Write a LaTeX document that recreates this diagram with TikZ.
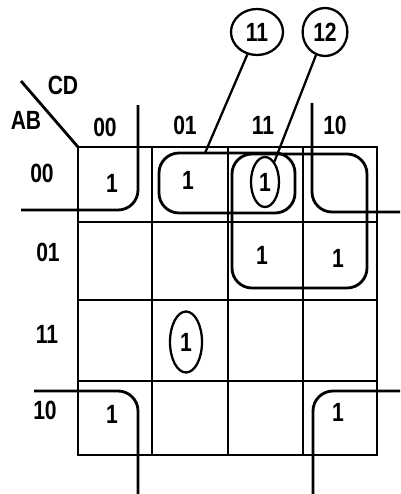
\documentclass[tikz,border=0pt]{standalone}
\usepackage{fontspec}
\setmainfont{Liberation Sans}
\usetikzlibrary{shapes.geometric}

\begin{document}
\begin{tikzpicture}[x=0.02cm, y=-0.02cm, line width=1.6pt,
    txt/.style={font=\fontsize{15}{17}\selectfont\bfseries, inner sep=0pt, xscale=0.8},
    grp/.style={rounded corners=0.4cm},
    loop/.style={draw, ellipse, inner sep=0pt, line width=1.3pt}]
      \useasboundingbox (0,0) rectangle (400,494);
      % corner heading
      \node[txt] (cd) at (63,85) {CD};
      \node[txt] (ab) at (26,120) {AB};
      \coordinate (slash) at (21,81);
      \coordinate (corner) at (78,147);
      \draw (slash) -- (corner);
      % column labels
      \node[txt] (c00) at (105,127) {00};
      \node[txt] (c01) at (185,125) {01};
      \node[txt] (c11) at (263,125) {11};
      \node[txt] (c10) at (335,125) {10};
      % row labels
      \node[txt] (r00) at (42,173) {00};
      \node[txt] (r01) at (48,252) {01};
      \node[txt] (r11) at (47,334) {11};
      \node[txt] (r10) at (45,410) {10};
      % grid
      \draw (corner) rectangle (377,455);
      \draw (152,147) -- (152,455);
      \draw (228,147) -- (228,455);
      \draw (303,147) -- (303,455);
      \draw (78,222) -- (377,222);
      \draw (78,300) -- (377,300);
      \draw (78,381) -- (377,381);
      % cell entries
      \node[txt] (m0) at (112,183) {1};
      \node[txt] (m1) at (188,180) {1};
      \node[txt] (m7) at (262,255) {1};
      \node[txt] (m6) at (338,258) {1};
      \node[txt] (m8) at (112,414) {1};
      \node[txt] (m10) at (338,412) {1};
      \node[loop, txt, minimum width=0.7cm, minimum height=1cm] (e12) at (265,182) {1};
      \node[loop, txt, minimum width=0.8cm, minimum height=1.22cm] (e13) at (186,342) {1};
      % groups
      \draw[grp] (159,153) rectangle (295,213);
      \draw[grp] (232,154) rectangle (367,288);
      \draw[grp] (138,105) -- (138,210) -- (21,210);
      \draw[grp] (312,103) -- (312,212) -- (400,212);
      \draw[grp] (34,391) -- (138,391) -- (138,494);
      \draw[grp] (400,391) -- (313,391) -- (313,494);
      % callouts
      \node[loop, txt, minimum width=1.3cm, minimum height=0.92cm] (n11) at (257,32) {11};
      \node[loop, txt, minimum width=1.12cm, minimum height=0.96cm] (n12) at (325,32) {12};
      \coordinate (p11) at (205,153);
      \draw[line width=1.3pt] (n11) -- (p11);
      \draw[line width=1.3pt] (n12) -- (e12.60);
    \end{tikzpicture}
\end{document}
